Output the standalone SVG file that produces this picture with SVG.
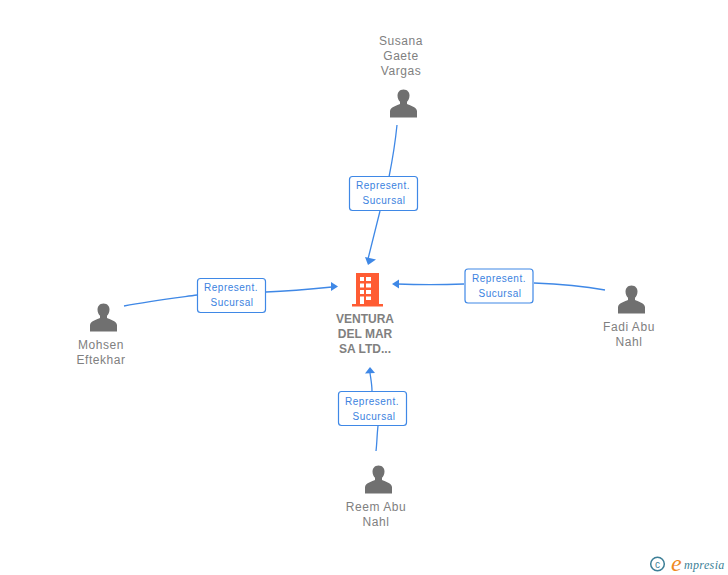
<svg xmlns="http://www.w3.org/2000/svg" width="728" height="575" viewBox="0 0 728 575">
<style>
text{font-family:"Liberation Sans",Arial,sans-serif}
.n{font-size:12px;fill:#808080;text-anchor:middle;letter-spacing:.55px}
.b{font-size:12px;fill:#808080;text-anchor:middle;font-weight:bold}
.l{font-size:10px;fill:#3b82e0;text-anchor:middle;letter-spacing:.5px}
.c{fill:none;stroke:#3f88e6;stroke-width:1.3}
.a{fill:#3f88e6}
.r{fill:#fff;stroke:#3f88e6;stroke-width:1.2}
.p{fill:#707070}
</style>
<defs>
<path id="person" d="M0,-14.500C-4,-14.500 -6,-11.500 -6,-8.500C-6,-5.500 -4.800,-3.500 -3.500,-2.200L-3.500,0C-6,1.500 -13,2.500 -13.500,7L-13.500,13.500L13.500,13.500L13.500,7C13,2.500 6,1.500 3.500,0L3.500,-2.200C4.800,-3.500 6,-5.500 6,-8.500C6,-11.500 4,-14.500 0,-14.500Z"/>
</defs>
<g id="connectors">
<path class="c" d="M397,125C395,145 392,162 389,177"/>
<path class="c" d="M380,211L368,259"/>
<path class="a" d="M365,257L376,259.500L368,265Z"/>
<path class="c" d="M124,306C150,301 175,298 197,295"/>
<path class="c" d="M266,292C290,291 312,289 332,287"/>
<path class="a" d="M331,282L338,286.500L331,291Z"/>
<path class="c" d="M605,290C582,286 558,284 534,283"/>
<path class="c" d="M464,284C440,285 420,285 397,284"/>
<path class="a" d="M399,279.500L392,284L399,288.500Z"/>
<path class="c" d="M376,451C377,443 377,434 378,426"/>
<path class="c" d="M372,391C372,385 371,380 370,373"/>
<path class="a" d="M365,373.500L370,367L375,373Z"/>
</g>
<g id="node-ventura">
<path fill="#ff5c33" fill-rule="evenodd" d="M356,273H379V304H383V306.500H352V304H356ZM360,277V281H364V277ZM366,277V281H371V277ZM360,283.500V287.500H364V283.500ZM366,283.500V287.500H371V283.500ZM360,290V294H364V290ZM366,290V294H371V290ZM360,296.500V304H364V296.500ZM366,296.500V300H371V296.500Z"/>
<text class="b" x="365" y="323">VENTURA</text>
<text class="b" x="365" y="338">DEL MAR</text>
<text class="b" x="365" y="353">SA LTD...</text>
</g>
<g id="node-susana">
<use href="#person" class="p" x="403.500" y="104"/>
<text class="n" x="401" y="45">Susana</text>
<text class="n" x="401" y="60">Gaete</text>
<text class="n" x="401" y="75">Vargas</text>
</g>
<g id="node-mohsen">
<use href="#person" class="p" x="103.500" y="318"/>
<text class="n" x="101" y="349">Mohsen</text>
<text class="n" x="101" y="364">Eftekhar</text>
</g>
<g id="node-fadi">
<use href="#person" class="p" x="631.500" y="300"/>
<text class="n" x="629" y="331">Fadi Abu</text>
<text class="n" x="629" y="346">Nahl</text>
</g>
<g id="node-reem">
<use href="#person" class="p" x="378.500" y="480"/>
<text class="n" x="376" y="511">Reem Abu</text>
<text class="n" x="376" y="526">Nahl</text>
</g>
<g id="label-top">
<rect class="r" x="349.500" y="176.500" width="68" height="34" rx="3"/>
<text class="l" x="383" y="189">Represent.</text>
<text class="l" x="384" y="204">Sucursal</text>
</g>
<g id="label-left">
<rect class="r" x="197.500" y="278.500" width="68" height="34" rx="3"/>
<text class="l" x="231" y="291">Represent.</text>
<text class="l" x="232" y="306">Sucursal</text>
</g>
<g id="label-right">
<rect class="r" x="465" y="269" width="68" height="34" rx="3"/>
<text class="l" x="499" y="282">Represent.</text>
<text class="l" x="500" y="297">Sucursal</text>
</g>
<g id="label-bottom">
<rect class="r" x="338.500" y="391.500" width="68" height="34" rx="3"/>
<text class="l" x="372" y="405">Represent.</text>
<text class="l" x="374" y="420">Sucursal</text>
</g>
<g id="watermark">
<circle cx="657.500" cy="564" r="6.800" fill="none" stroke="#3d7f97" stroke-width="1.500"/>
<text x="657.500" y="567.500" font-size="10" fill="#3d7f97" text-anchor="middle">c</text>
<text x="671" y="571" font-size="24" fill="#f08a1d" font-style="italic" style="font-family:'Liberation Serif',serif">e</text>
<text x="684" y="569" font-size="12" fill="#3d7f97" font-style="italic" style="font-family:'Liberation Serif',serif" letter-spacing=".35">mpresia</text>
</g>
</svg>
